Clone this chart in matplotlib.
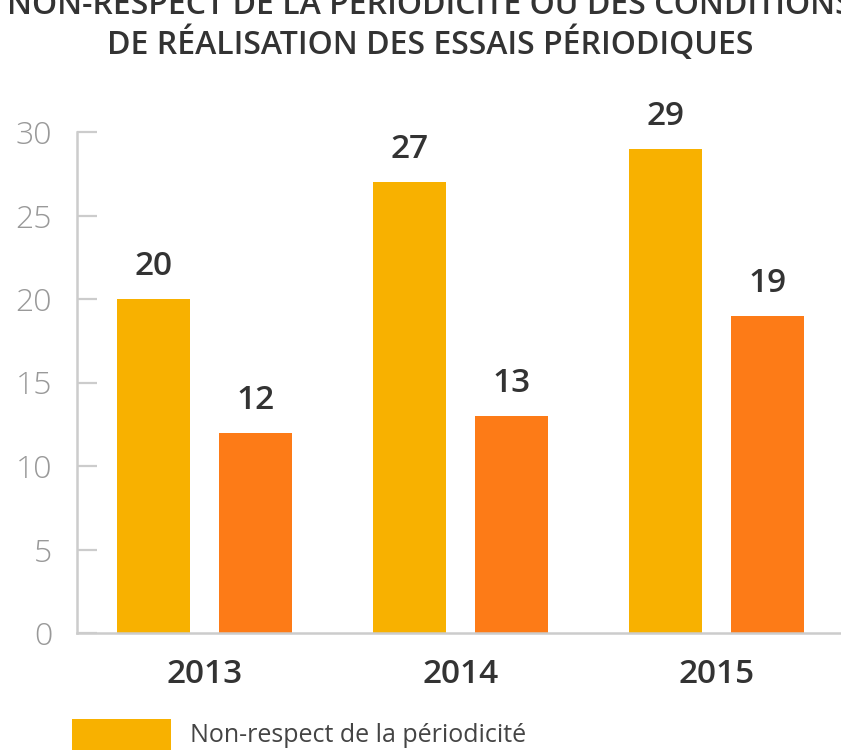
import matplotlib.pyplot as plt
from matplotlib.patches import Patch
import numpy as np

years = ['2013', '2014', '2015']
periodicite = [20, 27, 29]
conditions = [12, 13, 19]
legend_label = 'Non-respect de la périodicité'
title_lines = ['NON-RESPECT DE LA PÉRIODICITÉ OU DES CONDITIONS',
               'DE RÉALISATION DES ESSAIS PÉRIODIQUES']

YELLOW = '#F8B100'
ORANGE = '#FD7B17'
AXIS_GREY = '#CCCCCC'
DARK = '#333333'

plt.rcParams['font.family'] = ['Open Sans', 'DejaVu Sans']

W, H = 841, 754
fig = plt.figure(figsize=(W / 100, H / 100), dpi=100)
ax = fig.add_axes([77 / W, (H - 633) / H, (W - 77) / W, (633 - 132) / H])

x = np.arange(len(years))
bw = 0.285
off = 0.199
ax.bar(x - off, periodicite, bw, color=YELLOW)
ax.bar(x + off, conditions, bw, color=ORANGE)

# value labels above bars
for xs, vals in ((x - off, periodicite), (x + off, conditions)):
    for xi, v in zip(xs, vals):
        ax.annotate(str(v), (xi, v), xytext=(0, 17.3), textcoords='offset points',
                    ha='center', va='baseline', fontsize=24, fontweight='semibold',
                    color=DARK, annotation_clip=False)

ax.set_xlim(-0.498, -0.498 + (W - 77) / 256)
ax.set_ylim(0, 30)
ax.set_yticks([0, 5, 10, 15, 20, 25, 30])
ax.set_xticks(x)
ax.set_xticklabels(years, fontsize=24, fontweight='semibold', color=DARK)
ax.tick_params(axis='x', length=0, pad=18)
ax.tick_params(axis='y', direction='in', length=14.4, width=1.6, color=AXIS_GREY,
               labelsize=23, labelcolor='#999999', pad=18)
for lbl in ax.get_yticklabels():
    lbl.set_fontweight('light')

for s in ('top', 'right'):
    ax.spines[s].set_visible(False)
for s in ('left', 'bottom'):
    ax.spines[s].set_color(AXIS_GREY)
    ax.spines[s].set_linewidth(1.8)

# title (first line is clipped by the top edge, as in the source)
fig.text(430 / W, 1 - 14 / H, title_lines[0], ha='center', va='baseline',
         fontsize=23, fontweight='semibold', color=DARK)
fig.text(430 / W, 1 - 54 / H, title_lines[1], ha='center', va='baseline',
         fontsize=23, fontweight='semibold', color=DARK)

fig.legend([Patch(facecolor=YELLOW)], [legend_label], loc='upper left',
           bbox_to_anchor=(72 / W, 1 - 719 / H), frameon=False,
           fontsize=18, labelcolor='#444444', borderpad=0, borderaxespad=0,
           handlelength=3.96, handleheight=1.5, handletextpad=0.76)

fig.savefig('out.png', dpi=100, facecolor='white')
